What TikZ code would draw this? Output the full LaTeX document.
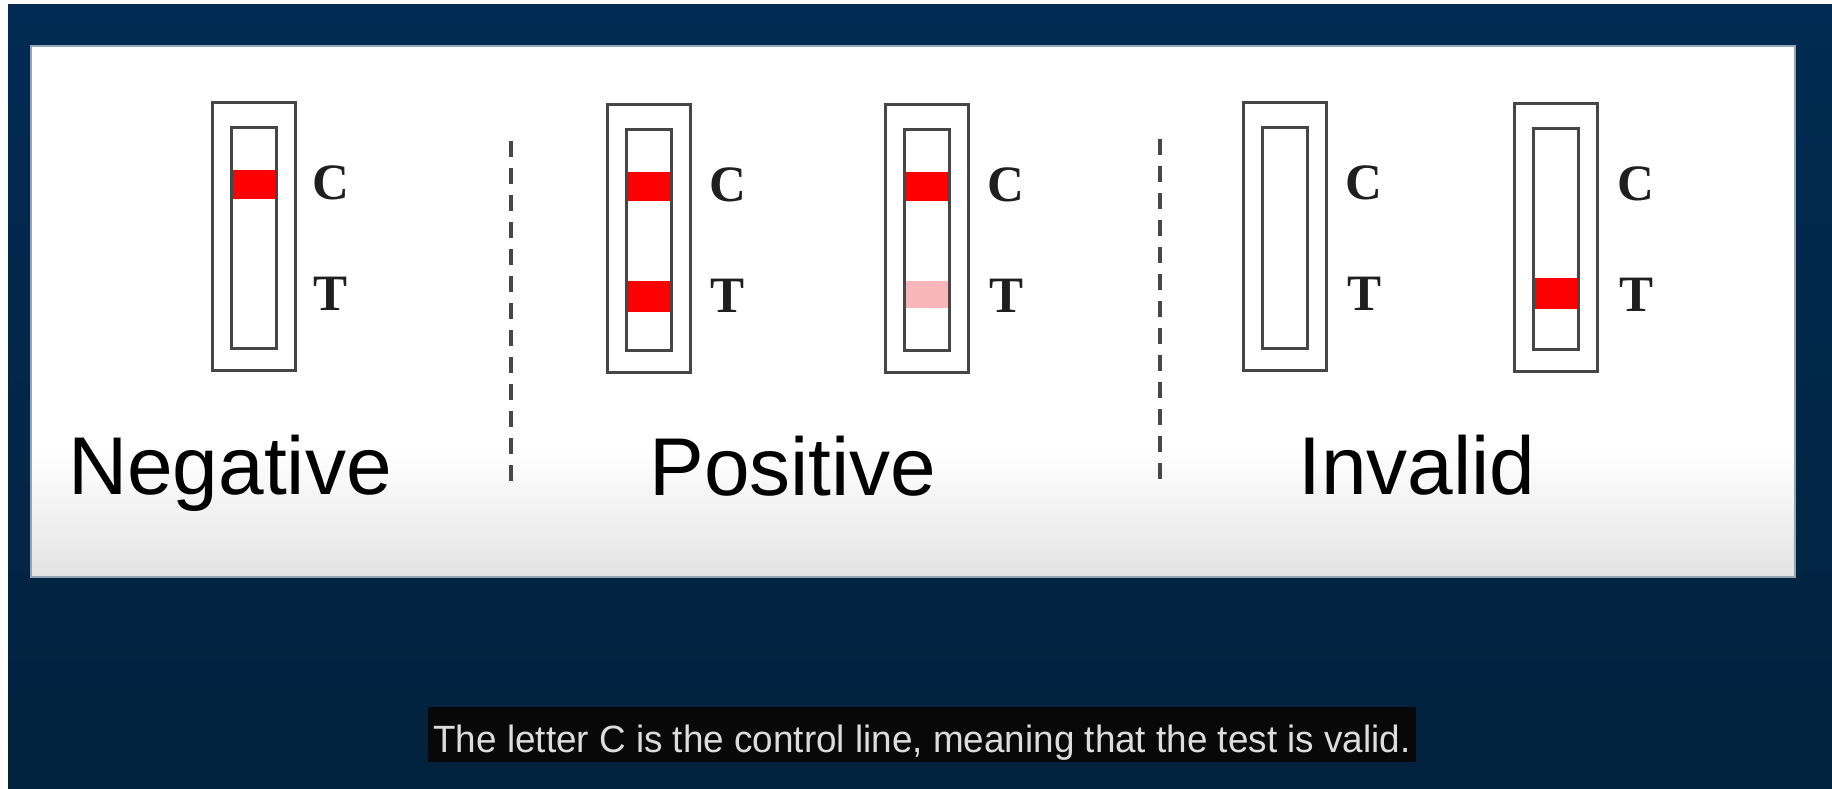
\documentclass[tikz,border=0pt]{standalone}
\usepackage{fontspec}
\setmainfont{Liberation Serif}
\newfontfamily\labelfont{Liberation Sans}
\newfontfamily\capfont[FakeStretch=0.97]{Liberation Sans}
\definecolor{navytop}{RGB}{1,43,82}
\definecolor{navybot}{RGB}{1,34,62}
\definecolor{stripline}{RGB}{70,70,70}
\definecolor{bandred}{RGB}{254,0,0}
\definecolor{bandpink}{RGB}{246,182,186}
\definecolor{panelborder}{RGB}{150,165,182}
\definecolor{captext}{RGB}{220,220,220}
\tikzset{
  outerbox/.style={draw=stripline, line width=3pt},
  innerbox/.style={draw=stripline, line width=3pt},
  lettertag/.style={font=\bfseries\fontsize{51}{51}\selectfont, text=black!88, inner sep=0pt},
  resultlabel/.style={font=\labelfont\fontsize{82}{82}\selectfont, anchor=base, inner sep=0pt},
  divider/.style={draw=black!72, line width=4pt, dash pattern=on 16pt off 11pt},
  teststrip/.pic={
    \draw[outerbox] (0,0) rectangle (83,267);
    \draw[innerbox] (19,25) rectangle (64,245);
  }
}
\begin{document}
\begin{tikzpicture}[x=1pt,y=-1pt]
\useasboundingbox (0,0) rectangle (1832,789);
\fill[white] (0,0) rectangle (1832,789);
\shade[top color=navytop, bottom color=navybot] (8,5) rectangle (1832,789);
% panel
\fill[white] (31,46) rectangle (1795,577);
\shade[top color=white, bottom color=black!11] (31,450) rectangle (1795,577);
\draw[panelborder, line width=1.5pt] (31,46) rectangle (1795,577);

% bands
\fill[bandred] (231,170) rectangle (276,199);
\fill[bandred] (626,172) rectangle (671,201);
\fill[bandred] (626,281) rectangle (671,312);
\fill[bandred] (904,172) rectangle (949,201);
\fill[bandpink] (904,281) rectangle (949,308);
\fill[bandred] (1533,278) rectangle (1578,309);

% strips
\pic at (212,103) {teststrip};
\pic at (607,105) {teststrip};
\pic at (885,105) {teststrip};
\pic at (1243,103) {teststrip};
\pic at (1514,104) {teststrip};

% letters
\node[lettertag] (c1) at (331,183) {C};
\node[lettertag] (t1) at (331,294) {T};
\node[lettertag] (c2) at (728,185) {C};
\node[lettertag] (t2) at (728,296) {T};
\node[lettertag] (c3) at (1006,185) {C};
\node[lettertag] (t3) at (1006,296) {T};
\node[lettertag] (c4) at (1364,183) {C};
\node[lettertag] (t4) at (1364,294) {T};
\node[lettertag] (c5) at (1636,184) {C};
\node[lettertag] (t5) at (1636,295) {T};

% dividers
\coordinate (d1a) at (511,141);
\coordinate (d1b) at (511,481);
\coordinate (d2a) at (1160,139);
\coordinate (d2b) at (1160,479);
\draw[divider] (d1a) -- (d1b);
\draw[divider] (d2a) -- (d2b);

% result labels
\node[resultlabel] (neg) at (230,494) {Negative};
\node[resultlabel] (pos) at (793,495) {Positive};
\node[resultlabel] (inv) at (1417,494) {Invalid};

% caption
\fill[black!97] (428,707) rectangle (1416,762);
\node[font=\capfont\fontsize{38}{38}\selectfont, text=captext, anchor=base, inner sep=0pt] (cap) at (922,752) {The letter C is the control line, meaning that the test is valid.};
\end{tikzpicture}
\end{document}
